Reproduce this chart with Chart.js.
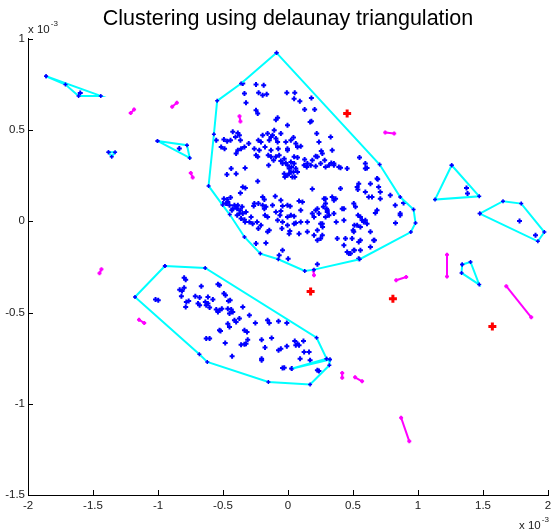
<!DOCTYPE html>
<html>
<head>
<meta charset="utf-8">
<script src="https://cdn.jsdelivr.net/npm/chart.js@4/dist/chart.umd.min.js"></script>
<style>
  html, body { margin: 0; padding: 0; background: #fff; }
  #wrap { width: 555px; height: 531px; }
</style>
</head>
<body>
<div id="wrap"><canvas id="c" width="555" height="531"></canvas></div>
<script>
// ---- Data (values are in units of 1e-3) ----
const chartTitle = 'Clustering using delaunay triangulation';
const xTicks = [-2, -1.5, -1, -0.5, 0, 0.5, 1, 1.5, 2];
const yTicks = [-1.5, -1, -0.5, 0, 0.5, 1];

// blue points, upper cluster
const clusterUpper = [
[-0.348,0.755],[-0.246,0.749],[-0.187,0.745],[-0.226,0.705],[-0.164,0.696],[-0.195,0.691],[-0.335,0.700],[-0.323,0.649],
[-0.009,0.705],[0.052,0.705],[0.047,0.672],[0.091,0.658],[0.180,0.676],[0.128,0.612],[0.205,0.612],[-0.246,0.608],
[-0.233,0.590],[-0.080,0.568],[-0.093,0.557],[-0.004,0.526],[0.180,0.548],[0.170,0.544],[0.221,0.481],[0.328,0.462],
[0.238,0.435],[0.340,0.389],[0.256,0.385],[0.213,0.356],[0.226,0.353],[0.187,0.334],[0.128,0.338],[0.149,0.316],
[0.073,0.349],[0.047,0.353],[-0.004,0.398],[0.022,0.444],[0.042,0.459],[0.060,0.426],[0.073,0.407],[0.098,0.411],
[-0.017,0.435],[-0.080,0.435],[-0.075,0.398],[-0.131,0.389],[-0.152,0.362],[-0.131,0.353],[-0.093,0.353],[-0.055,0.331],
[-0.042,0.316],[-0.017,0.320],[-0.004,0.307],[0.022,0.325],[0.047,0.316],[0.027,0.298],[0.060,0.289],[0.073,0.270],
[0.022,0.270],[-0.029,0.261],[-0.004,0.252],[0.034,0.243],[0.052,0.243],[0.009,0.261],[-0.149,0.307],[-0.111,0.334],
[-0.221,0.389],[-0.246,0.362],[-0.233,0.353],[-0.228,0.444],[-0.302,0.426],[-0.259,0.398],[-0.425,0.490],[-0.386,0.484],
[-0.374,0.471],[-0.404,0.462],[-0.442,0.444],[-0.468,0.438],[-0.493,0.448],[-0.514,0.407],[-0.488,0.398],[-0.399,0.371],
[-0.386,0.389],[-0.361,0.398],[-0.335,0.407],[-0.366,0.444],[-0.552,0.444],[-0.144,0.444],[-0.131,0.462],[-0.157,0.481],
[-0.119,0.471],[-0.106,0.499],[-0.093,0.453],[-0.055,0.481],[-0.004,0.389],[-0.195,0.471],[-0.208,0.435],[-0.177,0.407],
[0.124,0.307],[0.144,0.298],[0.175,0.307],[0.213,0.301],[0.251,0.316],[0.282,0.334],[0.315,0.307],[0.353,0.316],
[0.391,0.298],[0.455,0.289],[0.333,0.320],[-0.437,0.289],[-0.470,0.256],[-0.399,0.261],[-0.330,0.292],[-0.233,0.219],
[-0.348,0.188],[-0.328,0.183],[-0.366,0.155],[-0.442,0.130],[-0.468,0.119],[-0.501,0.097],[-0.476,0.097],[-0.450,0.088],
[-0.425,0.069],[-0.399,0.079],[-0.386,0.088],[-0.366,0.060],[-0.348,0.042],[-0.323,0.051],[-0.361,0.015],[-0.335,0.009],
[-0.391,0.033],[-0.432,0.060],[-0.493,0.124],[-0.259,0.097],[-0.228,0.097],[-0.195,0.133],[-0.182,0.119],[-0.195,0.088],
[-0.170,0.079],[-0.157,0.024],[-0.177,0.033],[-0.098,0.137],[-0.055,0.115],[-0.042,0.084],[-0.004,0.088],[0.017,0.082],
[0.022,0.033],[0.047,0.027],[-0.004,0.024],[-0.062,0.033],[-0.080,0.005],[-0.042,-0.004],[-0.004,-0.022],[0.047,-0.013],
[0.060,-0.009],[0.098,-0.004],[0.085,0.111],[0.111,0.106],[0.187,0.177],[0.277,0.124],[0.289,0.097],[0.272,0.079],
[0.302,0.051],[0.315,0.033],[0.289,0.024],[0.200,0.024],[0.213,0.060],[0.187,0.042],[0.251,-0.013],[0.266,-0.031],
[0.226,-0.049],[0.149,-0.058],[0.200,-0.077],[0.264,-0.077],[0.251,-0.095],[0.226,-0.104],[0.085,-0.068],[0.014,-0.053],
[0.009,-0.068],[-0.047,-0.040],[-0.157,-0.058],[-0.144,-0.049],[-0.228,-0.040],[-0.208,-0.022],[-0.238,-0.004],[-0.272,-0.013],
[-0.297,-0.004],[-0.284,0.024],[-0.330,-0.004],[0.340,0.133],[0.353,0.115],[0.404,0.179],[0.417,0.069],[0.371,-0.004],
[0.379,-0.095],[0.442,-0.095],[0.430,-0.132],[0.455,-0.168],[0.481,-0.177],[0.506,-0.159],[0.557,-0.159],[0.544,-0.113],
[0.557,-0.104],[0.493,-0.095],[0.506,-0.058],[0.532,-0.022],[0.557,-0.031],[0.583,-0.004],[0.570,0.005],[0.595,0.005],
[0.608,-0.013],[0.634,-0.058],[0.659,-0.104],[0.634,-0.141],[0.506,0.097],[0.519,0.079],[0.539,0.033],[0.557,0.024],
[0.685,0.060],[0.672,0.046],[0.544,0.206],[0.532,0.188],[0.537,0.174],[0.595,0.161],[0.621,0.133],[0.646,0.133],
[0.634,0.206],[0.685,0.234],[0.697,0.188],[0.710,0.161],[0.787,0.143],[0.825,0.088],[0.863,0.042],[0.827,-0.009],
[0.550,0.349],[0.595,0.316],[0.608,0.292],[-0.246,-0.122],[-0.170,-0.119],[-0.042,-0.159],[-0.068,-0.186],[0.001,-0.205],
[0.226,-0.236],[-0.055,0.057],[-0.264,0.084],[-0.182,0.069],[0.264,0.371],[0.353,0.307],[0.289,0.298],[0.404,0.294],
[0.595,0.289],[0.690,0.230],[0.889,0.100],[0.863,0.033],[0.289,0.124],[0.366,0.124],[0.226,0.069],[0.302,0.060],
[0.264,-0.013],[0.430,0.069],[0.511,-0.022],[0.501,-0.049],[0.665,-0.104],[0.468,-0.177],[0.511,-0.159],[0.544,-0.205],
[0.710,0.124],[-0.068,0.362],[-0.029,0.343],[0.009,0.289],[0.042,0.270],[-0.024,0.243],[-0.391,0.069],[-0.412,0.088],
[-0.463,0.106],[-0.353,0.079],[-0.374,0.042],[0.297,0.069],[0.238,0.042],[-0.119,0.088],[-0.093,0.051],[0.098,0.060],
[0.149,-0.004],[0.353,0.042],[0.430,0.005]
];

// blue points, lower cluster
const clusterLower = [
[-0.799,-0.309],[-0.787,-0.320],[-0.833,-0.375],[-0.815,-0.382],[-0.799,-0.364],[-0.667,-0.356],[-0.539,-0.345],[-0.527,-0.351],
[-1.019,-0.428],[-0.998,-0.433],[-0.820,-0.411],[-0.713,-0.411],[-0.680,-0.418],[-0.616,-0.415],[-0.578,-0.429],[-0.782,-0.442],
[-0.764,-0.437],[-0.787,-0.470],[-0.692,-0.451],[-0.680,-0.460],[-0.636,-0.442],[-0.629,-0.460],[-0.616,-0.451],[-0.603,-0.473],
[-0.552,-0.484],[-0.539,-0.497],[-0.527,-0.488],[-0.509,-0.479],[-0.493,-0.396],[-0.481,-0.406],[-0.458,-0.437],[-0.445,-0.433],
[-0.463,-0.479],[-0.437,-0.484],[-0.425,-0.497],[-0.450,-0.506],[-0.348,-0.470],[-0.297,-0.515],[-0.251,-0.557],[-0.374,-0.533],
[-0.412,-0.543],[-0.399,-0.552],[-0.463,-0.561],[-0.450,-0.579],[-0.527,-0.597],[-0.519,-0.601],[-0.335,-0.597],[-0.315,-0.607],
[-0.310,-0.649],[-0.335,-0.674],[-0.361,-0.676],[-0.323,-0.671],[-0.483,-0.667],[-0.629,-0.643],[-0.603,-0.643],[-0.203,-0.649],
[-0.157,-0.543],[-0.144,-0.557],[-0.073,-0.548],[-0.009,-0.557],[-0.126,-0.640],[-0.177,-0.692],[-0.073,-0.707],[-0.055,-0.698],
[-0.009,-0.685],[0.052,-0.656],[0.073,-0.671],[0.060,-0.680],[0.119,-0.656],[0.085,-0.680],[0.124,-0.716],[0.162,-0.716],
[0.093,-0.753],[0.170,-0.762],[0.226,-0.817],[0.238,-0.820],[-0.042,-0.804],[-0.029,-0.802],[0.029,-0.807],[-0.430,-0.740],
[-0.203,-0.753],[-0.203,-0.762]
];

// convex hulls (closed polygons)
const hullTopLeft   = [[-1.861,0.795],[-1.440,0.687],[-1.611,0.687],[-1.712,0.749],[-1.861,0.795]];
const hullMain      = [[-0.088,0.923],[-0.361,0.755],[-0.545,0.660],[-0.570,0.477],[-0.611,0.194],[-0.503,0.089],[-0.448,0.037],
                       [-0.335,-0.086],[-0.213,-0.177],[-0.075,-0.208],[0.129,-0.272],[0.200,-0.265],[0.552,-0.208],[0.945,-0.059],
                       [0.981,-0.009],[0.966,0.064],[0.863,0.133],[0.705,0.311],[-0.088,0.923]];
const hullLower     = [[-0.947,-0.245],[-0.637,-0.256],[0.220,-0.638],[0.297,-0.753],[0.323,-0.758],[0.318,-0.789],[0.170,-0.894],
                       [-0.151,-0.881],[-0.621,-0.771],[-0.682,-0.729],[-1.177,-0.415],[-0.947,-0.245]];
const hullLowerSliver = [[0.297,-0.753],[0.027,-0.808],[0.323,-0.758]];
const hullSmallTri  = [[-1.004,0.440],[-0.777,0.417],[-0.756,0.347],[-1.004,0.440]];
const hullBlob      = [[-1.381,0.378],[-1.330,0.378],[-1.356,0.353],[-1.381,0.378]];
const hullRightTri  = [[1.259,0.307],[1.131,0.119],[1.471,0.137],[1.259,0.307]];
const hullRightQuad = [[1.475,0.042],[1.654,0.110],[1.794,0.097],[1.972,-0.059],[1.922,-0.110],[1.475,0.042]];
const hullRightSmall= [[1.340,-0.237],[1.404,-0.223],[1.471,-0.347],[1.335,-0.283],[1.340,-0.237]];
const smallClusterInner = [[-1.598,0.703],[-0.836,0.399],[1.373,0.183],[1.381,0.152],[1.781,0.002],[1.904,-0.077]];

// two-point clusters (magenta)
const pairClusters = [
  [[-1.210,0.594],[-1.184,0.612]],
  [[-0.891,0.627],[-0.855,0.649]],
  [[-0.748,0.265],[-0.733,0.240]],
  [[-0.373,0.576],[-0.366,0.547]],
  [[0.195,-0.269],[0.200,-0.296]],
  [[0.748,0.486],[0.817,0.481]],
  [[0.832,-0.323],[0.909,-0.305]],
  [[1.223,-0.183],[1.223,-0.302]],
  [[1.679,-0.356],[1.871,-0.526]],
  [[0.870,-1.076],[0.933,-1.206]],
  [[0.417,-0.832],[0.417,-0.858]],
  [[0.516,-0.855],[0.570,-0.877]],
  [[-1.146,-0.539],[-1.106,-0.558]],
  [[-1.435,-0.263],[-1.450,-0.285]]
];

// single outliers (red)
const outliers = [[0.455,0.590],[0.174,-0.385],[0.807,-0.424],[1.572,-0.576]];

// ---- Build datasets ----
const toXY = arr => arr.map(p => ({x: p[0], y: p[1]}));
const BLUE = '#0000ff', CYAN = '#00ffff', MAGENTA = '#ff00ff', RED = '#ff0000';

const datasets = [];
datasets.push({ data: toXY(outliers), pointStyle: 'cross', pointRadius: 4, borderWidth: 3,
  borderColor: RED, backgroundColor: RED, showLine: false, order: 0 });

[hullTopLeft, hullMain, hullLower, hullLowerSliver, hullSmallTri, hullBlob, hullRightTri, hullRightQuad, hullRightSmall]
  .forEach(h => datasets.push({ data: toXY(h), showLine: true, borderColor: CYAN, borderWidth: 2,
    pointStyle: 'cross', pointRadius: 2, pointBorderWidth: 1.5, pointBorderColor: BLUE, pointBackgroundColor: BLUE,
    tension: 0, order: 1 }));

pairClusters.forEach(p => datasets.push({ data: toXY(p), showLine: true, borderColor: MAGENTA, borderWidth: 2,
  pointStyle: 'cross', pointRadius: 2, pointBorderWidth: 2, pointBorderColor: MAGENTA, pointBackgroundColor: MAGENTA,
  order: 2 }));

[clusterUpper, clusterLower, smallClusterInner].forEach(c => datasets.push({ data: toXY(c), showLine: false,
  pointStyle: 'cross', pointRadius: 2.5, borderWidth: 2, borderColor: BLUE, backgroundColor: BLUE, order: 3 }));

// ---- Decorations: inward ticks and exponent labels ----
const FONT = '"Liberation Sans", Arial, Helvetica, sans-serif';
const axisDecor = {
  id: 'axisDecor',
  afterDraw(chart) {
    const {ctx, chartArea: a, scales: {x, y}} = chart;
    ctx.save();
    ctx.strokeStyle = '#000';
    ctx.lineWidth = 1;
    ctx.beginPath();
    x.ticks.forEach(t => {
      const px = Math.round(x.getPixelForValue(t.value)) + 0.5;
      ctx.moveTo(px, a.bottom); ctx.lineTo(px, a.bottom - 5);
    });
    y.ticks.forEach(t => {
      const py = Math.round(y.getPixelForValue(t.value)) + 0.5;
      ctx.moveTo(a.left, py); ctx.lineTo(a.left + 5, py);
    });
    ctx.stroke();
    ctx.fillStyle = '#1a1a1a';
    ctx.textAlign = 'left';
    ctx.textBaseline = 'alphabetic';
    // y-axis multiplier
    ctx.font = '11.5px ' + FONT;
    ctx.fillText('x 10', a.left, a.top - 6);
    const w1 = ctx.measureText('x 10').width;
    ctx.font = '8px ' + FONT;
    ctx.fillText('-3', a.left + w1 + 1, a.top - 13);
    // x-axis multiplier
    ctx.font = '11.5px ' + FONT;
    const w2 = ctx.measureText('x 10').width;
    ctx.fillText('x 10', a.right - 29, a.bottom + 34);
    ctx.font = '8px ' + FONT;
    ctx.fillText('-3', a.right - 29 + w2 + 1, a.bottom + 27);
    ctx.restore();
  }
};

Chart.defaults.font.family = FONT;

new Chart(document.getElementById('c'), {
  type: 'scatter',
  data: { datasets },
  options: {
    responsive: false,
    animation: false,
    events: [],
    layout: { padding: { left: 0, right: 3, top: 0, bottom: 0 } },
    plugins: {
      legend: { display: false },
      tooltip: { enabled: false },
      title: {
        display: true, text: chartTitle, fullSize: false,
        color: '#000', font: { size: 21.5, weight: 'normal', family: FONT },
        padding: { top: 6.5, bottom: 6.5 }
      }
    },
    scales: {
      x: {
        type: 'linear', min: -2, max: 2,
        afterBuildTicks: s => { s.ticks = xTicks.map(v => ({ value: v })); },
        afterFit: s => { s.height = 36; s.paddingLeft = 0; s.paddingRight = 0; },
        grid: { display: false, drawTicks: false },
        border: { display: true, color: '#000', width: 1 },
        ticks: { color: '#1a1a1a', font: { size: 11.5 }, padding: 4, maxRotation: 0, autoSkip: false,
                 callback: v => String(v) }
      },
      y: {
        type: 'linear', min: -1.5, max: 1,
        afterBuildTicks: s => { s.ticks = yTicks.map(v => ({ value: v })); },
        afterFit: s => { s.width = 28; s.paddingTop = 0; s.paddingBottom = 0; },
        grid: { display: false, drawTicks: false },
        border: { display: true, color: '#000', width: 1 },
        ticks: { color: '#1a1a1a', font: { size: 11.5 }, padding: 3, autoSkip: false,
                 callback: v => String(v) }
      }
    }
  },
  plugins: [axisDecor]
});
</script>
</body>
</html>
